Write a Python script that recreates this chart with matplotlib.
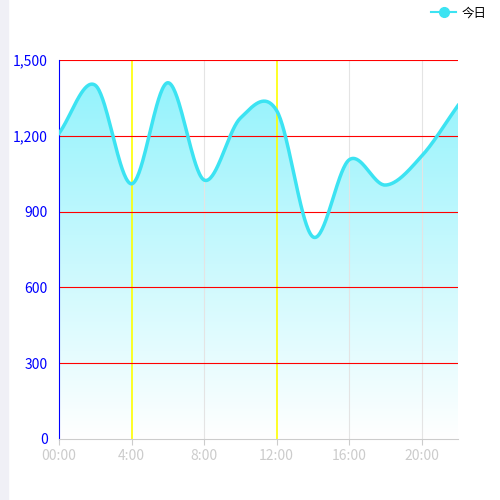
import numpy as np
import matplotlib.pyplot as plt
from matplotlib.lines import Line2D
from matplotlib.colors import LinearSegmentedColormap

plt.rcParams['font.family'] = ['Noto Sans CJK SC', 'DejaVu Sans']

hours = [0, 2, 4, 6, 8, 10, 12, 14, 16, 18, 20, 22]
values = [1210, 1400, 1010, 1410, 1025, 1270, 1300, 800, 1105, 1005, 1120, 1320]
xtick_hours = [0, 4, 8, 12, 16, 20]
xtick_labels = ['00:00', '4:00', '8:00', '12:00', '16:00', '20:00']
yticks = [0, 300, 600, 900, 1200, 1500]

# smooth curve, cubic hermite with finite-difference tangents
x = np.array(hours, float)
y = np.array(values, float)
m = np.gradient(y, x)
xs, ys = [], []
for i in range(len(x) - 1):
    h = x[i + 1] - x[i]
    t = np.linspace(0, 1, 40)
    h00 = 2*t**3 - 3*t**2 + 1
    h10 = t**3 - 2*t**2 + t
    h01 = -2*t**3 + 3*t**2
    h11 = t**3 - t**2
    xs.append(x[i] + t*h)
    ys.append(h00*y[i] + h10*h*m[i] + h01*y[i+1] + h11*h*m[i+1])
xs = np.concatenate(xs)
ys = np.concatenate(ys)

fig = plt.figure(figsize=(5, 5), dpi=100)
fig.patches.append(plt.Rectangle((0, 0), 0.016, 1, transform=fig.transFigure,
                                 color='#f0f0f6', zorder=0))
ax = fig.add_axes([0.118, 0.122, 0.798, 0.758])

# gradient fill
grad = np.linspace(0, 1, 256).reshape(-1, 1)
cmap = LinearSegmentedColormap.from_list('g', ['#ffffff', '#8ef2fc'])
im = ax.imshow(grad, extent=[0, 22, 0, 1500], origin='lower', aspect='auto',
               cmap=cmap, zorder=1)
poly = ax.fill_between(xs, ys, 0, color='none')
im.set_clip_path(poly.get_paths()[0], transform=ax.transData)

for hh in xtick_hours[1:]:
    c = 'yellow' if hh in (4, 12) else '#e4e4e4'
    ax.axvline(hh, color=c, lw=1.2 if c == 'yellow' else 0.8, zorder=2)
for v in yticks[1:]:
    ax.axhline(v, color='red', lw=0.8, zorder=2)

ax.plot(xs, ys, color='#3ce3f2', lw=2.5, zorder=3)

ax.set_xlim(0, 22)
ax.set_ylim(0, 1500)
ax.set_xticks(xtick_hours)
ax.set_xticklabels(xtick_labels)
ax.set_yticks(yticks)
ax.set_yticklabels([f'{v:,}' for v in yticks])
ax.tick_params(axis='x', colors='#cccccc', labelsize=10, length=4)
ax.tick_params(axis='y', colors='blue', labelsize=10, length=0, pad=8)
for s in ['top', 'right']:
    ax.spines[s].set_visible(False)
ax.spines['left'].set_color('blue')
ax.spines['bottom'].set_color('#cccccc')

h = Line2D([], [], color='#3ce3f2', marker='o', markersize=7, lw=1.5)
fig.legend([h], ['今日'], loc='upper right', bbox_to_anchor=(0.995, 1.01),
           frameon=False, fontsize=9, handlelength=2, handletextpad=0.4)

fig.savefig('out.png')
